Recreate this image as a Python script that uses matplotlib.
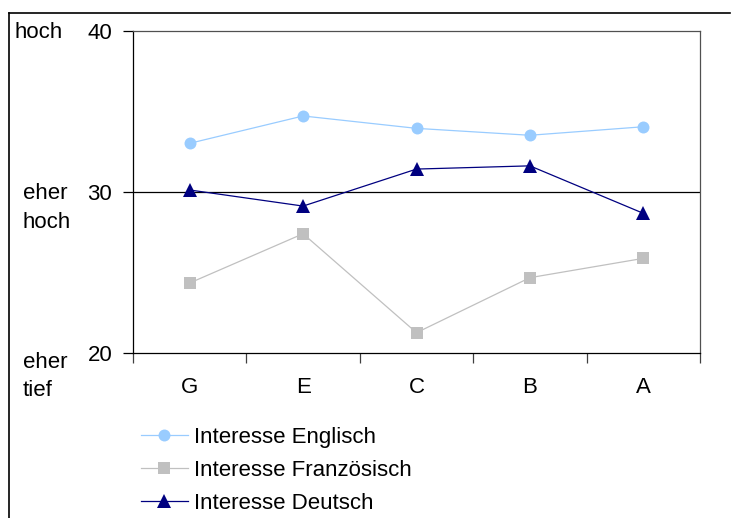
import matplotlib.pyplot as plt
from matplotlib.lines import Line2D

plt.rcParams['font.family'] = ['Liberation Sans', 'DejaVu Sans']

# Categories and series values
categories = ['G', 'E', 'C', 'B', 'A']
englisch = [33.05, 34.75, 33.98, 33.55, 34.08]
franzoesisch = [24.37, 27.43, 21.28, 24.70, 25.90]
deutsch = [30.15, 29.15, 31.45, 31.65, 28.70]
y_ticks = [20, 30, 40]

fs = 16

fig = plt.figure(figsize=(7.31, 5.18), dpi=100)
ax = fig.add_axes([133 / 731, 1 - 353.3 / 518, 567 / 731, 321.8 / 518])

x = range(len(categories))
ax.plot(x, englisch, color='#99CCFF', lw=0.9, marker='o', ms=8.6,
        markeredgewidth=0, label='Interesse Englisch')
ax.plot(x, franzoesisch, color='#C0C0C0', lw=0.9, marker='s', ms=8.2,
        markeredgewidth=0, label='Interesse Französisch')
ax.plot(x, deutsch, color='#000080', lw=0.9, marker='^', ms=9.5,
        markeredgewidth=0, label='Interesse Deutsch')

ax.set_xlim(-0.5, len(categories) - 0.5)
ax.set_ylim(20, 40)
ax.set_yticks(y_ticks)
ax.set_xticks(list(x))
ax.set_xticklabels(categories)
ax.set_xticks([i - 0.5 for i in range(len(categories) + 1)], minor=True)
ax.tick_params(axis='x', which='major', length=0, labelsize=fs, pad=17)
ax.tick_params(axis='x', which='minor', length=7, width=0.9, color='#404040')
ax.tick_params(axis='y', length=7, width=0.9, labelsize=fs, pad=8)

# horizontal gridline at the middle tick
ax.axhline(30, color='black', lw=0.9, zorder=0)

ax.spines['left'].set_color('black')
ax.spines['bottom'].set_color('black')
ax.spines['top'].set_color('#505050')
ax.spines['right'].set_color('#505050')
for s in ax.spines.values():
    s.set_linewidth(0.9)

# descriptive labels on the left side
fig.text(15 / 731, 1 - 33 / 518, 'hoch', fontsize=fs, va='center', ha='left')
fig.text(23 / 731, 1 - 194 / 518, 'eher', fontsize=fs, va='center', ha='left')
fig.text(23 / 731, 1 - 222 / 518, 'hoch', fontsize=fs, va='center', ha='left')
fig.text(23 / 731, 1 - 363 / 518, 'eher', fontsize=fs, va='center', ha='left')
fig.text(23 / 731, 1 - 390 / 518, 'tief', fontsize=fs, va='center', ha='left')

# outer frame (top and left edges)
fig.add_artist(Line2D([9 / 731, 730 / 731], [1 - 12.5 / 518, 1 - 12.5 / 518],
                      color='black', lw=1.2, transform=fig.transFigure))
fig.add_artist(Line2D([9 / 731, 9 / 731], [1 - 12.5 / 518, 0],
                      color='black', lw=1.2, transform=fig.transFigure))

fig.legend(loc='upper left', bbox_to_anchor=(141 / 731, 1 - 427 / 518),
           frameon=False, fontsize=fs, handlelength=2.1, handletextpad=0.3,
           labelspacing=0.53, borderpad=0, borderaxespad=0)

fig.savefig('out.png', dpi=100)
